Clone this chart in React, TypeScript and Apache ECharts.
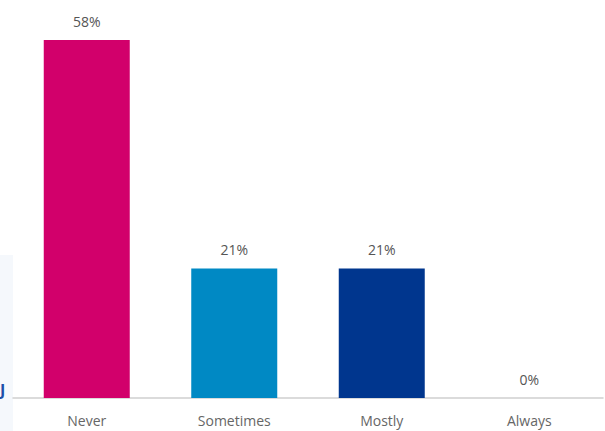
import React, { useEffect, useRef } from "react";
import * as echarts from "echarts";

const categories = ["Never", "Sometimes", "Mostly", "Always"];
const values = [58, 21, 21, 0];
const colors = ["#d2006b", "#0089c4", "#00368e", "#cccccc"];

export default function App() {
  const ref = useRef<HTMLDivElement>(null);
  useEffect(() => {
    if (!ref.current) return;
    const chart = echarts.init(ref.current, null, { renderer: "svg" });
    chart.setOption({
      animation: false,
      backgroundColor: "#ffffff",
      grid: { left: 13, right: 2, top: 40, bottom: 33, containLabel: false },
      graphic: [
        { type: "rect", x: 0, y: 255, shape: { width: 13, height: 176 }, style: { fill: "#f5f8fc" }, z: -1 },
        { type: "text", x: 0, y: 382, style: { text: "J", fill: "#1d4fa8", fontSize: 16, fontFamily: "Open Sans", fontWeight: "bold" } },
      ],
      xAxis: {
        type: "category",
        data: categories,
        axisLine: { show: true, lineStyle: { color: "#cfcfcf", width: 1.5 } },
        axisTick: { show: false },
        axisLabel: { color: "#666666", fontSize: 14, margin: 15, fontFamily: "Open Sans" },
      },
      yAxis: {
        type: "value",
        min: 0,
        max: 58,
        show: false,
        splitLine: { show: false },
      },
      series: [
        {
          type: "bar",
          barWidth: 86,
          data: values.map((v, i) => ({ value: v, itemStyle: { color: colors[i] } })),
          label: {
            show: true,
            position: "top",
            distance: 12,
            formatter: "{c}%",
            color: "#555555",
            fontSize: 14,
            fontFamily: "Open Sans",
          },
        },
      ],
    });
    return () => chart.dispose();
  }, []);
  return <div ref={ref} style={{ position: "fixed", left: 0, top: 0, width: 605, height: 431 }} />;
}
